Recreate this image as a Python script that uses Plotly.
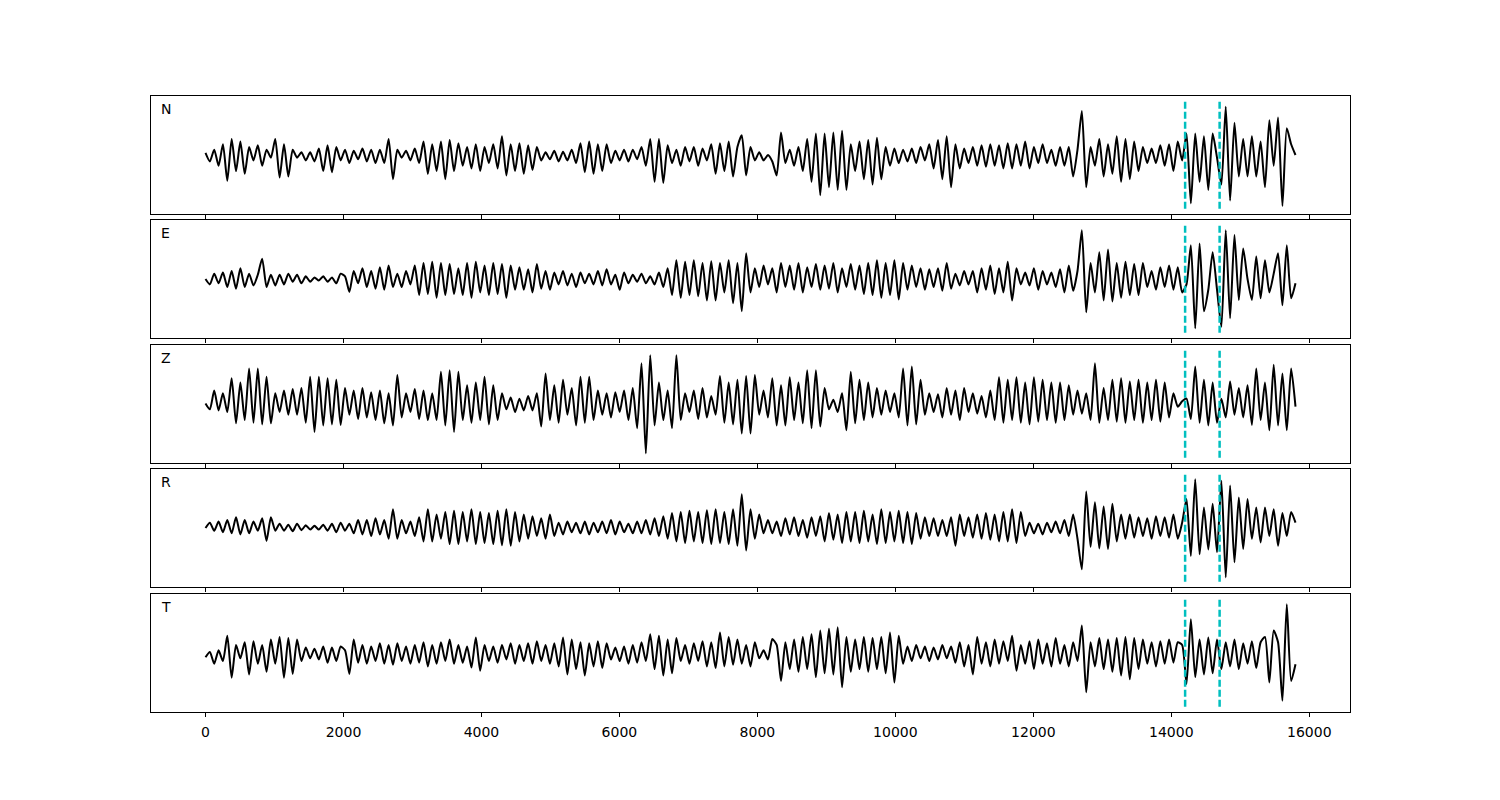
import numpy as np
import plotly.graph_objects as go

# ---- data (amplitudes in hundredths of the normalised unit, uniform sampling 0..15800) ----
t_start, t_end = 0, 15800
components = ["N", "E", "Z", "R", "T"]
picks = [14200, 14700]
xtick_vals = [0, 2000, 4000, 6000, 8000, 10000, 12000, 14000, 16000]

amp_N = [4,-12,10,-20,20,-48,30,-30,25,-35,
         15,-10,18,-20,10,-5,30,-42,20,-40,
         10,-5,5,-10,5,-12,12,-30,18,-32,
         15,-10,10,-15,8,-8,12,-12,10,-15,
         10,-15,30,-45,10,-5,8,-10,12,-15,
         25,-35,20,-30,25,-45,28,-30,22,-20,
         15,-25,20,-30,15,-15,20,-25,35,-38,
         20,-30,22,-35,18,-28,15,-10,5,-8,
         8,-12,6,-10,10,-15,22,-32,25,-35,
         20,-30,20,-15,8,-10,10,-12,10,-8,
         15,-20,30,-50,30,-52,18,-15,10,-20,
         15,-12,15,-20,12,-10,20,-35,22,-30,
         25,-40,15,37,-38,15,-10,
         5,-10,0,-12,-38,42,-15,10,-20,15,
         -30,30,-50,40,-75,40,-60,42,-65,45,
         -65,20,-30,25,-45,28,-55,32,-45,15,
         -20,12,-15,10,-12,12,-15,15,-10,20,
         -25,28,-45,35,-60,20,-25,12,-15,15,
         -20,18,-22,20,-20,18,-25,22,-25,20,
         -20,25,-25,15,-15,20,-15,10,-20,15,
         -20,15,-40,10,82,-60,15,-20,30,-40,
         20,-35,35,-50,30,-45,25,-30,15,-15,
         12,-15,18,-20,20,-30,25,-10,40,-90,
         40,-50,35,-65,40,-5,-55,90,-85,60,
         -40,30,-40,35,-40,25,-60,65,-20,70,
         -95,50,20,0]

amp_E = [0,-10,10,-8,12,-15,15,-18,20,-15,
         10,-12,8,38,-15,8,-12,8,-10,10,
         -5,8,-8,5,-5,3,-3,5,-5,3,
         -8,10,5,-24,15,-8,20,-15,15,-18,
         22,-20,25,-15,10,-15,15,-10,25,-30,
         30,-28,32,-35,30,-30,28,-28,20,-30,
         30,-35,32,-25,25,-30,30,-28,28,-35,
         25,-20,22,-20,18,-25,28,-18,15,-20,
         12,-10,15,-12,10,-15,12,-8,10,-10,
         15,-12,18,-10,8,-20,12,-8,8,-5,
         10,-8,5,-10,12,-15,20,-30,35,-35,
         32,-30,35,-32,30,-40,33,-40,30,-25,
         35,-45,30,-60,48,-25,20,
         -15,25,-10,20,-25,30,-15,25,-20,30,
         -25,22,-15,28,-20,25,-18,30,-25,20,
         -15,28,-20,25,-28,30,-30,35,-35,30,
         -30,35,-38,30,-20,25,-15,20,-20,18,
         -15,20,-22,30,-18,10,-12,15,-10,15,
         -25,20,-20,25,-28,20,-25,32,-40,20,
         -10,12,-12,20,-20,15,-10,12,-15,18,
         -25,25,-22,15,91,-62,30,-25,50,-40,
         55,-42,30,-35,32,-30,28,-30,30,-15,
         15,-20,22,-15,25,-20,22,-25,-10,63,
         -92,66,-60,-20,50,-20,-89,91,-73,82,
         -39,57,0,-39,42,-36,35,-25,10,48,
         -49,63,-36,-8]

amp_Z = [1,-10,25,-12,20,-15,48,-36,40,-30,
         66,-35,66,-38,51,-36,20,-15,25,-20,
         28,-20,30,-35,51,-52,51,-40,48,-38,
         45,-39,30,-20,25,-28,30,-25,22,-30,
         25,-36,20,-40,54,-25,20,-15,28,-28,
         25,-30,20,-30,60,-40,63,-52,60,-30,
         35,-35,40,-30,51,-38,35,-30,20,-10,
         12,-15,10,-12,15,-12,20,-42,57,-30,
         35,-35,45,-20,30,-40,51,-35,51,-30,
         25,-20,20,-25,22,-15,25,-30,30,-45,
         76,-92,91,-40,40,-30,25,-45,91,-30,
         20,-15,25,-28,30,-25,15,-20,52,-35,
         40,-38,45,-55,52,-55,54,
         -20,25,-25,48,-40,35,-40,50,-30,40,
         -36,63,-45,63,-42,30,-10,8,-15,20,
         -49,60,-36,45,-30,40,-25,30,-20,25,
         -15,20,-25,66,-40,70,-38,45,-20,20,
         -15,18,-25,30,-20,25,-30,30,-15,20,
         -18,15,-25,25,-30,50,-35,45,-30,50,
         -35,40,-38,50,-33,45,-30,40,-35,40,
         -30,35,-20,25,-18,20,-30,76,-35,30,
         -30,45,-33,48,-35,42,-30,45,-35,40,
         -30,45,-33,40,-25,20,-5,5,10,-28,
         70,-35,45,-40,40,-35,10,-25,42,-20,
         30,-25,35,-39,66,-30,40,-49,73,-40,
         57,-49,66,-5]

amp_R = [0,10,-5,12,-8,15,-10,20,-12,15,
         -10,12,-5,18,-24,20,-5,8,-5,6,
         -6,8,-4,5,-3,4,-3,6,-5,8,
         -8,10,-5,8,-10,15,-12,15,-15,18,
         -12,15,-20,35,-20,15,-10,12,-15,20,
         -25,35,-25,25,-20,30,-30,32,-30,30,
         -25,35,-30,30,-28,28,-30,32,-32,35,
         -33,30,-25,25,-20,22,-15,18,-20,25,
         -15,10,-12,12,-8,10,-10,12,-12,10,
         -8,12,-10,15,-12,12,-8,8,-10,12,
         -10,15,-12,18,-15,22,-20,28,-25,30,
         -28,32,-25,30,-28,33,-30,35,-28,30,
         -30,35,-33,63,-42,35,-20,
         25,-10,15,-10,12,-15,18,-12,20,-15,
         15,-18,20,-15,22,-25,28,-22,25,-28,
         30,-25,30,-28,32,-25,25,-30,35,-28,
         30,-25,32,-28,30,-30,28,-20,20,-15,
         18,-15,15,-15,20,-33,25,-15,20,-18,
         25,-20,28,-22,25,-25,30,-25,35,-28,
         30,-15,10,-10,8,-12,10,-8,12,-10,
         15,-15,25,-20,-77,68,-35,48,-38,40,
         -39,45,-25,25,-20,25,-18,20,-15,18,
         -20,22,-15,20,-18,25,-20,10,54,-52,
         91,-49,38,-40,45,-45,88,-92,79,-64,
         57,-39,54,-20,38,-27,38,-15,35,-33,
         28,-15,30,10]

amp_T = [-8,2,-20,5,-15,32,-46,15,-10,20,
         -40,22,-20,15,-35,25,-20,30,-46,28,
         -39,25,-15,10,-10,8,-12,12,-18,10,
         -15,12,5,-39,25,-18,15,-20,12,-15,
         18,-20,15,-22,18,-15,12,-20,15,-18,
         20,-25,15,-20,20,-15,25,-20,15,-18,
         12,-27,29,-33,15,-15,12,-18,15,-12,
         18,-20,15,-15,18,-20,22,-15,15,-20,
         18,-25,29,-40,25,-30,20,-42,18,-25,
         22,-28,18,-12,10,-15,12,-20,15,-18,
         20,-15,35,-30,32,-42,25,-38,28,-15,
         15,-20,18,-15,22,-25,20,-28,38,-25,
         30,-22,25,-20,15,-25,20,
         -10,5,-12,26,15,-52,20,-30,25,-35,
         30,-30,35,-45,42,-38,45,-40,48,-64,
         30,-35,25,-30,30,-35,28,-30,30,-38,
         38,-55,32,-20,12,-15,15,-10,12,-15,
         10,-12,15,-10,12,-18,20,-25,15,-40,
         30,-20,20,-25,25,-20,22,-15,32,-33,
         15,-20,22,-30,25,-20,18,-25,28,-20,
         15,-25,20,-15,51,-73,20,-25,28,-30,
         25,-35,28,-42,30,-49,28,-30,25,-20,
         20,-25,22,-20,25,-18,20,15,-58,63,
         -45,25,-40,29,-38,25,-30,20,-25,25,
         -30,18,-20,22,-28,20,30,-55,42,20,
         -89,91,-52,-21]

traces = [amp_N, amp_E, amp_Z, amp_R, amp_T]

# ---- figure ----
domains = [(0.8084, 1.0), (0.6071, 0.7987), (0.4042, 0.5958),
           (0.2029, 0.3945), (0.0, 0.1916)]
pick_color = "#00bfbf"

fig = go.Figure()
layout = dict(
    width=1500, height=800,
    margin=dict(l=143, r=158, t=88, b=96),
    paper_bgcolor="white", plot_bgcolor="white",
    showlegend=False,
    font=dict(family="DejaVu Sans", size=14, color="black"),
)
shapes = []
annotations = []
for k, (name, vals) in enumerate(zip(components, traces)):
    n = k + 1
    xa = "x" if n == 1 else f"x{n}"
    ya = "y" if n == 1 else f"y{n}"
    t = np.linspace(t_start, t_end, len(vals))
    y = np.array(vals, dtype=float) / 100.0
    fig.add_trace(go.Scatter(
        x=t, y=y, mode="lines", xaxis=xa, yaxis=ya,
        line=dict(color="black", width=2, shape="spline", smoothing=0.6),
        hoverinfo="skip"))
    xkey = "xaxis" if n == 1 else f"xaxis{n}"
    ykey = "yaxis" if n == 1 else f"yaxis{n}"
    layout[xkey] = dict(
        domain=[0, 1], anchor=ya, range=[-790, 16590],
        matches=None if n == 1 else "x",
        showline=True, mirror=True, linecolor="black", linewidth=1,
        ticks="outside", ticklen=4, tickwidth=1, tickcolor="black",
        tickvals=xtick_vals, ticktext=[str(v) for v in xtick_vals],
        tickfont=dict(family="DejaVu Sans", size=14, color="black"),
        ticklabelstandoff=3,
        showticklabels=(n == len(components)),
        showgrid=False, zeroline=False)
    layout[ykey] = dict(
        domain=list(domains[k]), anchor=xa, range=[-1.1, 1.1],
        showline=True, mirror=True, linecolor="black", linewidth=1,
        showticklabels=False, ticks="", showgrid=False, zeroline=False)
    for p in picks:
        shapes.append(dict(type="line", xref=xa, yref=ya,
                           x0=p, x1=p, y0=-1, y1=1, layer="above",
                           line=dict(color=pick_color, width=2.5, dash="7px,3px")))
    annotations.append(dict(
        text=name, xref=f"{xa} domain", yref=f"{ya} domain",
        x=0.007, y=0.975, xanchor="left", yanchor="top", showarrow=False,
        font=dict(family="DejaVu Sans", size=14, color="black")))

layout["shapes"] = shapes
layout["annotations"] = annotations
fig.update_layout(**layout)
fig.write_html("out.html")
